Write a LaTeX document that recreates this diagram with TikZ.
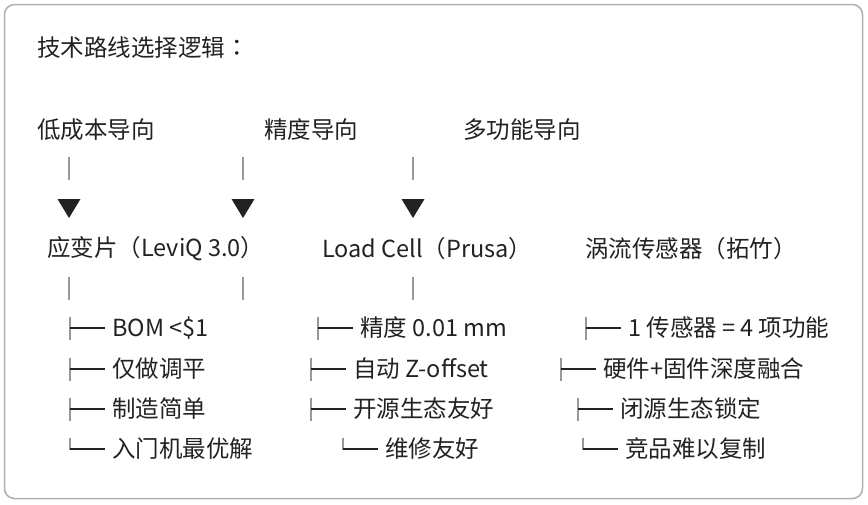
\documentclass[tikz,border=0pt]{standalone}
\usepackage{fontspec}
\setmainfont{Noto Sans CJK SC}
\newfontfamily\tcfont{Noto Sans CJK TC}
\definecolor{ink}{HTML}{222222}
\definecolor{bar}{HTML}{999999}
\definecolor{frame}{HTML}{B0B0B0}
\tikzset{
  txt/.style={anchor=west, inner sep=0pt, text=ink, font=\fontsize{23.5}{28}\selectfont},
  vbar/.style={draw=bar, line width=1.3pt},
  hbar/.style={draw=ink, line width=1.1pt},
  tri/.style={fill=ink, draw=none},
}
\begin{document}
\begin{tikzpicture}[x=1pt,y=-1pt]
\useasboundingbox (0,0) rectangle (868,504);
\draw[frame, line width=1.5pt, rounded corners=10pt] (4.5,4.5) rectangle (862.5,498.5);

\node[txt] (title) at (37,48) {技术路线选择逻辑{\tcfont ：}};

\node[txt] (g1) at (37,130) {低成本导向};
\node[txt] (g2) at (264,130) {精度导向};
\node[txt] (g3) at (463,130) {多功能导向};

% upper bars
\foreach \x in {69,243,413}{
  \draw[vbar] (\x,157) -- (\x,180);
  \fill[tri] (\x-11.5,199) -- (\x+11.5,199) -- (\x,218) -- cycle;
  \draw[vbar] (\x,277) -- (\x,300);
}

\node[txt] (m1) at (47,249) {应变片（LeviQ 3.0）};
\node[txt] (m2) at (322,249) {Load Cell（Prusa）};
\node[txt] (m3) at (585,249) {涡流传感器（拓竹）};

% column 1
\node[txt] (a1) at (112,328) {BOM <\$1};
\node[txt] (a2) at (112,369) {仅做调平};
\node[txt] (a3) at (112,409) {制造简单};
\node[txt] (a4) at (112,449) {入门机最优解};
% column 2
\node[txt] (b1) at (360,328) {精度 0.01 mm};
\node[txt] (b2) at (353,369) {自动 Z-offset};
\node[txt] (b3) at (353,409) {开源生态友好};
\node[txt] (b4) at (385,449) {维修友好};
% column 3
\node[txt] (c1) at (628,328) {1 传感器 = 4 项功能};
\node[txt] (c2) at (603,369) {硬件+固件深度融合};
\node[txt] (c3) at (620,409) {闭源生态锁定};
\node[txt] (c4) at (625,449) {竞品难以复制};

% tee branches
\foreach \n in {a1,a2,a3,b1,b2,b3,c1,c2,c3}{
  \draw[vbar] ([xshift=-42pt,yshift=11.5pt]\n.west) -- ([xshift=-42pt,yshift=-11.5pt]\n.west);
  \draw[hbar] ([xshift=-42pt]\n.west) -- ([xshift=-7pt]\n.west);
}
% last branches
\foreach \n in {a4,b4,c4}{
  \draw[vbar] ([xshift=-42pt,yshift=11pt]\n.west) -- ([xshift=-42pt,yshift=-0.5pt]\n.west);
  \draw[hbar] ([xshift=-42pt]\n.west) -- ([xshift=-7pt]\n.west);
}
\end{tikzpicture}
\end{document}
